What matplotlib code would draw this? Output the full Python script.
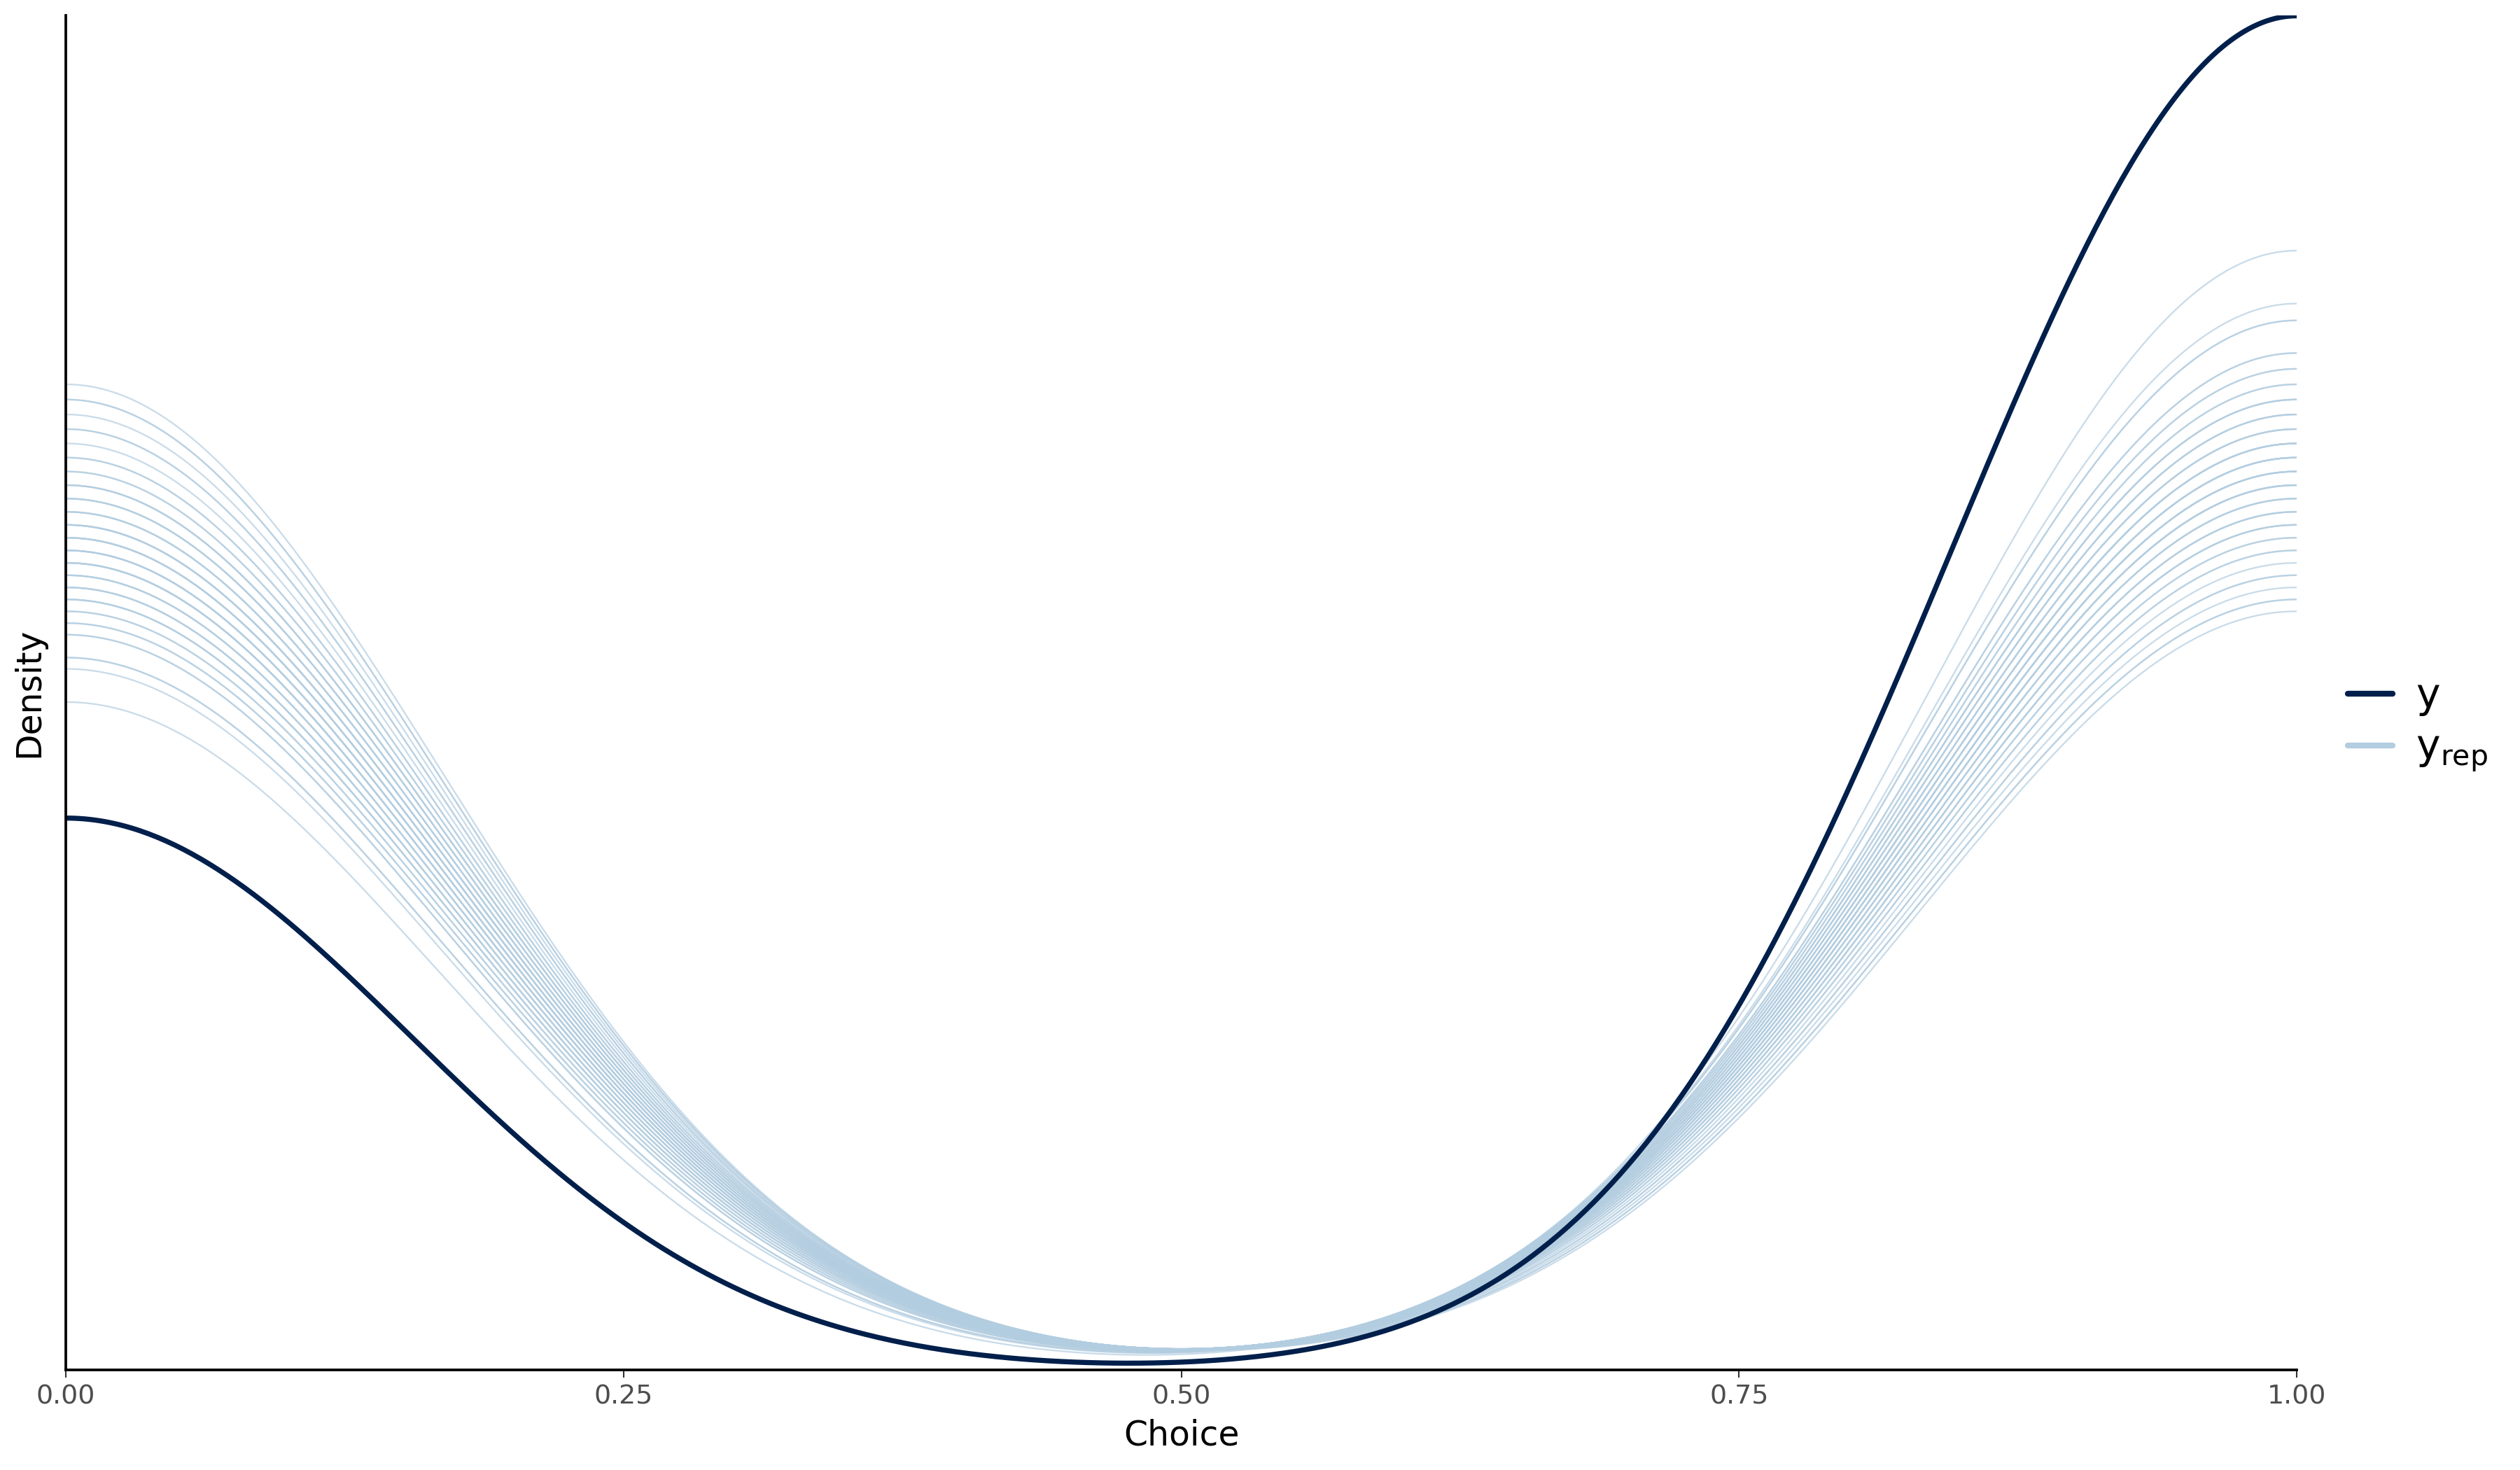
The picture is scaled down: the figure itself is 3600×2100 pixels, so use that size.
"""Posterior predictive check: overlaid densities of observed choices (y) and replicates (y_rep)."""
import numpy as np
import matplotlib.pyplot as plt
from matplotlib.lines import Line2D

plt.rcParams['font.family'] = ['DejaVu Sans']
plt.rcParams['mathtext.default'] = 'regular'

# binary choice data: number of observations and number of 1s
n_obs = 131
y_ones = 93
# number of 1s in each replicated dataset
yrep_ones = [57, 58, 58, 59, 60, 60, 61, 62, 62, 63, 63, 64, 64, 64,
             65, 65, 65, 66, 66, 66, 67, 67, 67, 67, 68, 68, 68, 68,
             69, 69, 69, 69, 70, 70, 70, 70, 71, 71, 71, 72, 72, 72,
             73, 73, 73, 74, 74, 75, 75, 76, 76, 78, 78, 79, 82]
x_ticks = [0.0, 0.25, 0.5, 0.75, 1.0]
x_ticklabels = ['0.00', '0.25', '0.50', '0.75', '1.00']

DARK = '#011f4b'
LIGHT = '#b3cde0'


def binary(n, k):
    return np.r_[np.zeros(n - k), np.ones(k)]


def bw_nrd0(x):
    # same rule as R's bw.nrd0
    sd = np.std(x, ddof=1)
    q75, q25 = np.percentile(x, [75, 25])
    lo = min(sd, (q75 - q25) / 1.34)
    if lo == 0:
        lo = sd if sd > 0 else 1.0
    return 0.9 * lo * len(x) ** -0.2


def kde(x, grid):
    h = bw_nrd0(x)
    z = (grid[:, None] - x[None, :]) / h
    return np.exp(-0.5 * z ** 2).sum(axis=1) / (len(x) * h * np.sqrt(2 * np.pi))


grid = np.linspace(0, 1, 512)
dens_y = kde(binary(n_obs, y_ones), grid)
dens_rep = [kde(binary(n_obs, k), grid) for k in yrep_ones]

W, H = 3600, 2100
fig = plt.figure(figsize=(12, 7), dpi=300)
ax = fig.add_axes([94 / W, 1 - 1957 / H, (3281 - 94) / W, (1957 - 22) / H])

for d in dens_rep:
    ax.plot(grid, d, color=LIGHT, lw=0.55, alpha=0.7, solid_capstyle='butt')
ax.plot(grid, dens_y, color=DARK, lw=1.75, solid_capstyle='butt')

allv = np.concatenate([dens_y] + dens_rep)
lo, hi = allv.min(), allv.max()
ax.set_ylim(lo - 0.005 * (hi - lo), hi * 1.0003)
ax.set_xlim(0, 1)

for s in ['top', 'right']:
    ax.spines[s].set_visible(False)
for s in ['left', 'bottom']:
    ax.spines[s].set_linewidth(0.9)
    ax.spines[s].set_color('black')

ax.set_yticks([])
ax.set_xticks(x_ticks)
ax.set_xticklabels(x_ticklabels)
ax.tick_params(axis='x', length=2.6, width=0.5, color='#333333',
               labelcolor='#4d4d4d', labelsize=9.1, pad=2.4)

ax.set_xlabel('Choice', fontsize=11.7)
ax.xaxis.set_label_coords(0.5, -0.036)
ax.set_ylabel('Density', fontsize=11.7)
ax.yaxis.set_label_coords(-0.009, 0.5)

handles = [Line2D([], [], color=DARK, lw=2, solid_capstyle='round'),
           Line2D([], [], color=LIGHT, lw=2, solid_capstyle='round')]
fig.legend(handles, ['y', '$y_{rep}$'], loc='center left',
           bbox_to_anchor=(3354 / W, 1 - 1036 / H), frameon=False,
           fontsize=14, handlelength=1.1, handletextpad=0.56, labelspacing=0.3,
           borderaxespad=0, borderpad=0)

fig.savefig('out.png', dpi=300, facecolor='white')
